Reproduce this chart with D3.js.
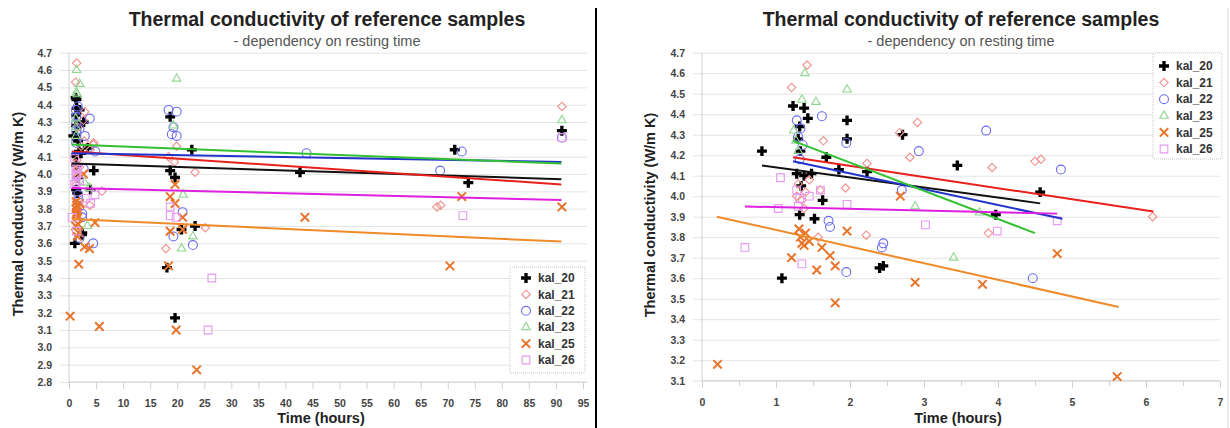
<!DOCTYPE html>
<html><head><meta charset="utf-8">
<script src="https://cdn.jsdelivr.net/npm/d3@7"></script>
<style>
body{margin:0;background:#fff}
svg{display:block}
text{font-family:"Liberation Sans",Arial,sans-serif}
</style>
</head><body>
<svg id="c" width="1230" height="428"></svg>
<script>
// ---------- data ----------
const seriesNames = ["kal_20","kal_21","kal_22","kal_23","kal_25","kal_26"];

// [time (hours), thermal conductivity (W/m K)]
const kal20 = [[0.81,4.22],[1.08,3.60],[1.23,4.44],[1.38,4.43],[1.43,4.38],[1.32,4.34],[1.30,4.28],[1.33,4.22],[1.28,4.11],[1.38,4.10],[1.48,4.11],[1.34,4.05],[1.32,3.91],[1.52,3.89],[1.63,3.98],[1.68,4.19],[1.85,4.13],[1.96,4.37],[1.96,4.28],[2.23,4.12],[2.40,3.65],[2.45,3.66],[2.71,4.30],[3.45,4.15],[3.97,3.91],[4.57,4.02],
  [18.1,3.46],[18.7,4.33],[18.7,4.02],[19.6,3.98],[19.6,3.17],[20.8,3.68],[22.7,4.14],[23.3,3.70],[42.7,4.01],[71.3,4.14],[73.8,3.95],[91.1,4.25]];
const kal21 = [[1.21,4.53],[1.42,4.64],[1.64,4.27],[1.30,4.06],[1.40,4.02],[1.35,3.98],[1.28,4.00],[1.45,4.08],[1.38,3.94],[1.60,4.03],[1.94,4.04],[1.57,3.80],[2.22,3.81],[2.23,4.16],[2.67,4.31],[2.81,4.19],[2.91,4.36],[3.87,3.82],[3.92,4.14],[4.50,4.17],[4.58,4.18],[6.09,3.90],
  [17.9,3.57],[18.4,4.10],[19.5,4.07],[19.9,4.16],[23.3,4.01],[25.2,3.69],[68.0,3.81],[68.7,3.82],[91.1,4.39]];
const kal22 = [[1.28,4.37],[1.33,4.33],[1.30,4.29],[1.36,4.25],[1.32,4.18],[1.62,4.39],[1.95,4.26],[1.71,3.88],[1.73,3.85],[1.95,3.63],[2.45,3.77],[2.43,3.75],[2.70,4.03],[2.93,4.22],[3.84,4.32],[4.47,3.60],[4.85,4.13],
  [18.4,4.37],[19.9,4.36],[19.0,4.23],[19.9,4.22],[19.3,4.27],[21.0,3.78],[19.3,3.64],[22.9,3.59],[43.9,4.12],[68.6,4.02],[72.6,4.13],[91.1,4.21]];
const kal23 = [[1.39,4.60],[1.35,4.47],[1.54,4.46],[1.96,4.52],[1.24,4.32],[1.27,4.27],[1.30,4.22],[2.88,3.95],[3.40,3.70],[3.75,3.92],
  [19.9,4.55],[19.3,4.28],[21.1,3.88],[20.8,3.57],[22.9,3.64],[91.1,4.31]];
const kal25 = [[0.21,3.18],[1.21,3.70],[1.31,3.84],[1.33,3.80],[1.35,3.77],[1.40,3.82],[1.45,3.78],[1.38,3.76],[1.55,3.64],[1.62,3.75],[1.73,3.71],[1.80,3.66],[1.80,3.48],[1.96,3.83],[2.68,4.00],[2.88,3.58],[3.79,3.57],[4.80,3.72],[5.61,3.12],
  [18.4,3.47],[18.7,3.87],[18.7,3.67],[19.6,3.94],[19.6,3.83],[19.8,3.10],[21.0,3.68],[21.0,3.75],[23.6,2.87],[43.6,3.75],[70.4,3.47],[72.6,3.87],[91.1,3.81]];
const kal26 = [[0.58,3.75],[1.03,3.94],[1.06,4.09],[1.28,4.03],[1.32,3.99],[1.30,3.95],[1.35,3.67],[1.45,4.00],[1.60,4.03],[1.96,3.96],[3.02,3.86],[3.99,3.83],[4.80,3.88],
  [18.7,3.81],[18.7,3.76],[19.8,3.75],[26.4,3.40],[25.7,3.10],[72.8,3.76],[91.1,4.21]];
const seriesData = [kal20,kal21,kal22,kal23,kal25,kal26];

// trend lines (start, end)
const trendLeft = [
  [[0.5,4.06],[91,3.97]],
  [[0.5,4.13],[91,3.94]],
  [[0.5,4.12],[91,4.07]],
  [[0.5,4.17],[91,4.06]],
  [[0.5,3.74],[91,3.61]],
  [[0.5,3.92],[91,3.85]]
];
const trendRight = [
  [[0.81,4.15],[4.57,3.965]],
  [[1.23,4.19],[6.10,3.925]],
  [[1.23,4.17],[4.87,3.89]],
  [[1.23,4.27],[4.50,3.82]],
  [[0.20,3.90],[5.63,3.46]],
  [[0.58,3.95],[4.80,3.915]]
];

const xTicksLeft = [0,5,10,15,20,25,30,35,40,45,50,55,60,65,70,75,80,85,90,95];
const yTicksLeft = [2.8,2.9,3.0,3.1,3.2,3.3,3.4,3.5,3.6,3.7,3.8,3.9,4.0,4.1,4.2,4.3,4.4,4.5,4.6,4.7];
const xTicksRight = [0,1,2,3,4,5,6,7];
const xMinorRight = [0.5,1.5,2.5,3.5,4.5,5.5,6.5];
const yTicksRight = [3.1,3.2,3.3,3.4,3.5,3.6,3.7,3.8,3.9,4.0,4.1,4.2,4.3,4.4,4.5,4.6,4.7];

const titleText = "Thermal conductivity of reference samples";
const subtitleText = "- dependency on resting time";
const yLabelText = "Thermal conductivity (W/m K)";
const xLabelText = "Time (hours)";

// ---------- styles ----------
const markerColors = ["#000000","#f0908c","#6b6bef","#8fd68f","#e8742a","#e49af0"];
const lineColors = ["#111111","#e8201c","#2233cc","#33c033","#f08a28","#e020e0"];
const symbols = [
  d3.symbol(d3.symbolCross, 55),
  d3.symbol(d3.symbolDiamond2, 45),
  d3.symbol(d3.symbolCircle, 62),
  d3.symbol(d3.symbolTriangle2, 52),
  d3.symbol(d3.symbolTimes, 48),
  d3.symbol(d3.symbolSquare2, 75)
];
function styleMarker(sel, i){
  if(i===0){ sel.attr("fill",markerColors[i]).attr("stroke","none"); }
  else { sel.attr("fill","none").attr("stroke",markerColors[i]).attr("stroke-width", i===4?2:1.1); }
}

const panels = [
  {xDomain:[0,95], xRange:[69,583], yDomain:[2.8,4.7], yRange:[382,52.7], xTicks:xTicksLeft, xMinor:[], yTicks:yTicksLeft,
   tMax:1000, trends:trendLeft, cx:327, gridRight:587, yLab:[23,214], xLab:[321,423],
   legend:{x:510,y:267,w:75,h:106,sx:16,tx:28,first:11,step:16.4}},
  {xDomain:[0,7], xRange:[702,1220], yDomain:[3.1,4.7], yRange:[380.7,52.7], xTicks:xTicksRight, xMinor:xMinorRight, yTicks:yTicksRight,
   tMax:7, trends:trendRight, cx:961, gridRight:1220, yLab:[655,215], xLab:[958,423],
   legend:{x:1153,y:53,w:69,h:106,sx:11,tx:23,first:13,step:16.6}}
];

const svg = d3.select("#c");

panels.forEach(p=>{
  const x = d3.scaleLinear().domain(p.xDomain).range(p.xRange);
  const y = d3.scaleLinear().domain(p.yDomain).range(p.yRange);
  const g = svg.append("g");
  const x0 = p.xRange[0];

  // gridlines + y tick labels
  const ya = g.append("g").attr("transform",`translate(${x0-9},0)`)
    .call(d3.axisLeft(y).tickValues(p.yTicks).tickFormat(d3.format(".1f"))
      .tickSize(-(p.gridRight-x0+9)).tickPadding(8));
  ya.select(".domain").remove();
  ya.selectAll(".tick line").attr("stroke","#e4e4e4");
  ya.selectAll(".tick text").attr("font-size",10.5).attr("font-weight","bold").attr("fill","#444")
    .attr("font-family","'Liberation Sans',Arial,sans-serif");

  // y axis line
  g.append("line").attr("x1",x0).attr("x2",x0).attr("y1",p.yRange[1]).attr("y2",p.yRange[0])
    .attr("stroke","#d0d0d0");

  // x axis
  const xa = g.append("g").attr("transform",`translate(0,${p.yRange[0]})`)
    .call(d3.axisBottom(x).tickValues(p.xTicks).tickFormat(d3.format("d")).tickSize(7).tickPadding(11));
  xa.select(".domain").attr("stroke","#d0d0d0").attr("d",`M${x0},0H${p.gridRight}`);
  xa.selectAll(".tick line").attr("stroke","#d0d0d0");
  xa.selectAll(".tick text").attr("font-size",10.5).attr("font-weight","bold").attr("fill","#444")
    .attr("font-family","'Liberation Sans',Arial,sans-serif");
  if(p.xMinor.length){
    const xm = g.append("g").attr("transform",`translate(0,${p.yRange[0]})`)
      .call(d3.axisBottom(x).tickValues(p.xMinor).tickFormat("").tickSize(5));
    xm.select(".domain").remove();
    xm.selectAll(".tick line").attr("stroke","#d0d0d0");
  }

  // points
  seriesData.forEach((data,i)=>{
    const pts = data.filter(d=>d[0]<=p.tMax);
    const s = g.append("g").selectAll("path").data(pts).join("path")
      .attr("d",symbols[i])
      .attr("transform",d=>`translate(${x(d[0])},${y(d[1])})`);
    styleMarker(s,i);
  });

  // trend lines
  const line = d3.line().x(d=>x(d[0])).y(d=>y(d[1]));
  p.trends.forEach((t,i)=>{
    g.append("path").attr("d",line(t)).attr("fill","none")
      .attr("stroke",lineColors[i]).attr("stroke-width",2);
  });

  // titles
  g.append("text").attr("x",p.cx).attr("y",26).attr("text-anchor","middle")
    .attr("font-size",19.5).attr("font-weight","bold").attr("fill","#222").text(titleText);
  g.append("text").attr("x",p.cx).attr("y",46).attr("text-anchor","middle")
    .attr("font-size",14.5).attr("fill","#555").text(subtitleText);
  g.append("text").attr("transform",`translate(${p.yLab[0]},${p.yLab[1]}) rotate(-90)`)
    .attr("text-anchor","middle").attr("font-size",14.5).attr("font-weight","bold").attr("fill","#222").text(yLabelText);
  g.append("text").attr("x",p.xLab[0]).attr("y",p.xLab[1]).attr("text-anchor","middle")
    .attr("font-size",14.5).attr("font-weight","bold").attr("fill","#222").text(xLabelText);

  // legend
  const L = p.legend;
  const lg = g.append("g").attr("transform",`translate(${L.x},${L.y})`);
  lg.append("rect").attr("width",L.w).attr("height",L.h).attr("fill","#fff")
    .attr("stroke","#c8c8c8").attr("stroke-dasharray","1,1");
  seriesNames.forEach((n,i)=>{
    const yy = L.first + i*L.step;
    const m = lg.append("path").attr("d",symbols[i]).attr("transform",`translate(${L.sx},${yy})`);
    styleMarker(m,i);
    lg.append("text").attr("x",L.tx).attr("y",yy).attr("dy","0.35em")
      .attr("font-size",12).attr("font-weight","bold").attr("fill","#333").text(n);
  });
});

// separators
svg.append("line").attr("x1",596).attr("x2",596).attr("y1",8).attr("y2",428).attr("stroke","#000").attr("stroke-width",2);
svg.append("line").attr("x1",1228).attr("x2",1228).attr("y1",8).attr("y2",428).attr("stroke","#d8d8d8").attr("stroke-width",1);
</script>
</body></html>
